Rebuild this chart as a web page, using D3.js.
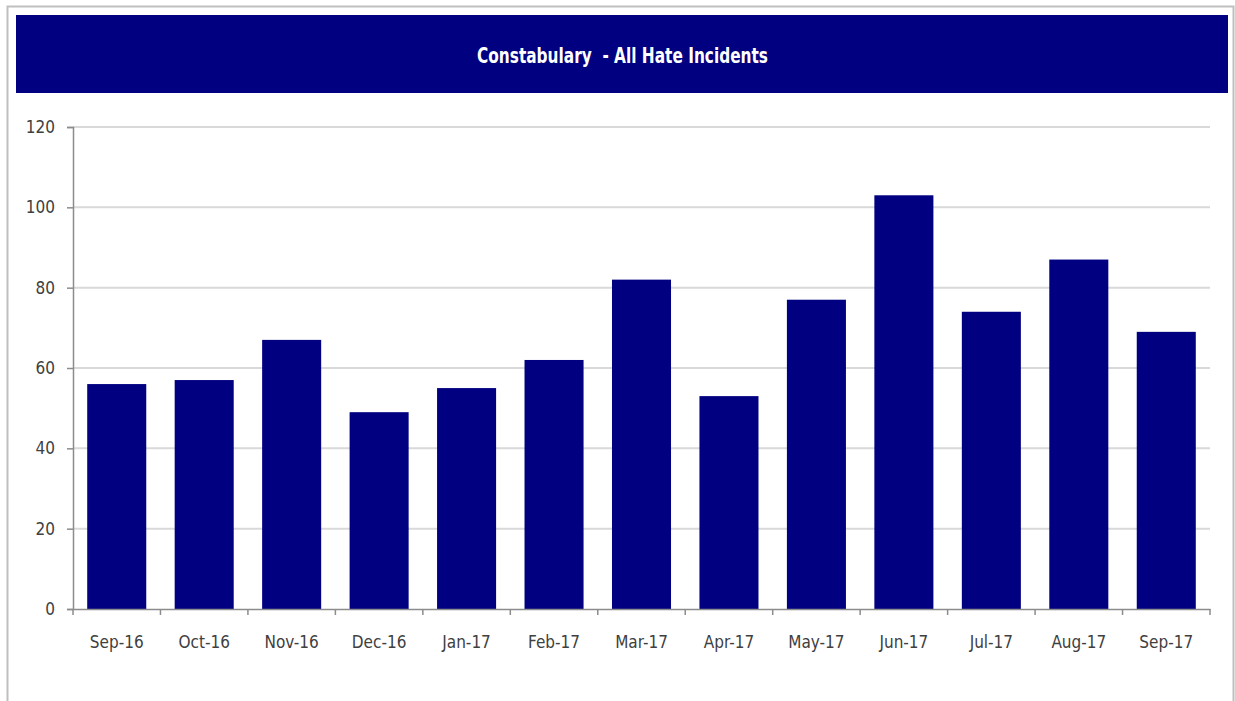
<!DOCTYPE html>
<html>
<head>
<meta charset="utf-8">
<script src="https://cdn.jsdelivr.net/npm/d3@7"></script>
<style>
  body { margin: 0; background: #ffffff; }
  #chart svg { display: block; }
</style>
</head>
<body>
<div id="chart"></div>
<script>
// constabulary hate incidents bar chart

///////////////
// data      //
///////////////

const months = ['Sep-16','Oct-16','Nov-16','Dec-16','Jan-17','Feb-17','Mar-17','Apr-17','May-17','Jun-17','Jul-17','Aug-17','Sep-17'];
const incidents = [56, 57, 67, 49, 55, 62, 82, 53, 77, 103, 74, 87, 69];
const yTicks = [0, 20, 40, 60, 80, 100, 120];
const chartTitle = 'Constabulary  - All Hate Incidents';

///////////////
// constants //
///////////////

const chartWidth = 1235;
const chartHeight = 701;

const plotLeft = 73;
const plotRight = 1210;
const plotTop = 127;
const plotBottom = 609;

const barColor = '#000080';
const labelFont = '"Liberation Sans Narrow", "DejaVu Sans Condensed", sans-serif';

var svg = d3.select('#chart').append('svg')
            .attr('width', chartWidth)
            .attr('height', chartHeight);

var xScale = d3.scaleBand()
               .domain(months)
               .range([plotLeft, plotRight])
               .paddingInner(0.325)
               .paddingOuter(0.1625);

var yScale = d3.scaleLinear()
               .domain([0, 120])
               .range([plotBottom, plotTop]);

////////////////
// draw image //
////////////////

// outer frame
svg.append('rect')
   .attr('x', 7.5).attr('y', 6.5)
   .attr('width', 1226).attr('height', 710)
   .attr('fill', 'none')
   .attr('stroke', '#bfbfbf')
   .attr('stroke-width', 2);

// title banner
svg.append('rect')
   .attr('x', 16).attr('y', 15)
   .attr('width', 1212).attr('height', 78)
   .attr('fill', barColor);

// squeeze the title to look like the narrow Excel font
svg.append('text')
   .attr('x', 477).attr('y', 63)
   .attr('textLength', 291)
   .attr('lengthAdjust', 'spacingAndGlyphs')
   .attr('fill', '#ffffff')
   .style('font-family', labelFont)
   .style('font-weight', 'bold')
   .style('font-size', '21px')
   .style('white-space', 'pre')
   .text(chartTitle);

// gridlines
svg.append('g')
   .selectAll('line')
   .data(yTicks.filter(d => d > 0))
   .join('line')
   .attr('x1', plotLeft).attr('x2', plotRight)
   .attr('y1', d => yScale(d)).attr('y2', d => yScale(d))
   .attr('stroke', '#d9d9d9')
   .attr('stroke-width', 2);

// bars
svg.append('g')
   .selectAll('rect')
   .data(incidents)
   .join('rect')
   .attr('x', (d, i) => xScale(months[i]))
   .attr('y', d => yScale(d))
   .attr('width', xScale.bandwidth())
   .attr('height', d => plotBottom - yScale(d))
   .attr('fill', barColor);

// y axis
var yAxis = svg.append('g')
   .attr('transform', 'translate(' + plotLeft + ',0)')
   .call(d3.axisLeft(yScale).tickValues(yTicks).tickSize(6).tickPadding(12));

// x axis with ticks on the category boundaries
var xAxis = svg.append('g')
   .attr('transform', 'translate(0,' + plotBottom + ')')
   .call(d3.axisBottom(xScale).tickSize(0).tickPadding(27));

var boundaries = d3.range(months.length + 1).map(i => plotLeft + i * (plotRight - plotLeft) / months.length);
xAxis.selectAll('.bound')
   .data(boundaries)
   .join('line')
   .attr('class', 'bound')
   .attr('x1', d => d).attr('x2', d => d)
   .attr('y1', 0).attr('y2', 6)
   .attr('stroke', '#8c8c8c')
   .attr('stroke-width', 1.5);

[yAxis, xAxis].forEach(function(ax) {
	ax.select('.domain').attr('stroke', '#8c8c8c').attr('stroke-width', 1.5);
	ax.selectAll('.tick line').attr('stroke', '#8c8c8c').attr('stroke-width', 1.5);
	ax.selectAll('.tick text')
	  .attr('fill', '#404040')
	  .style('font-family', labelFont)
	  .style('font-size', '17px');
});
</script>
</body>
</html>
